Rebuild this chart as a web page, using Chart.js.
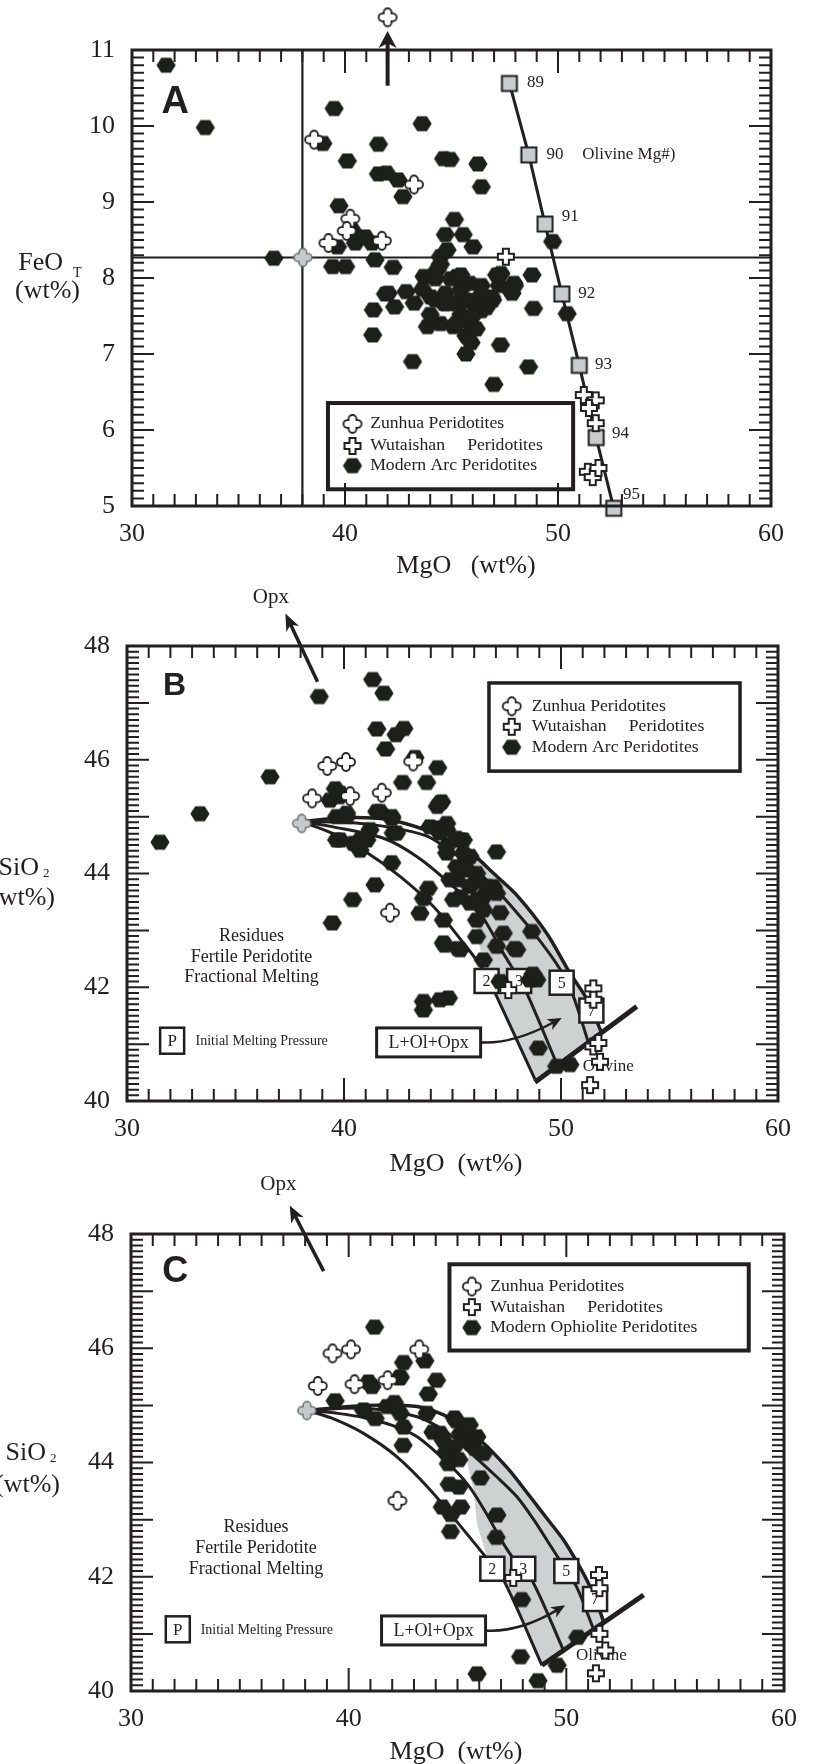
<!DOCTYPE html>
<html>
<head>
<meta charset="utf-8">
<script src="https://cdn.jsdelivr.net/npm/chart.js@4.4.1/dist/chart.umd.min.js"></script>
<style>
  html, body { margin: 0; padding: 0; background: #fff; }
  #page { position: relative; width: 816px; height: 1764px; overflow: hidden; }
  #page canvas { position: absolute; left: 0; }
</style>
</head>
<body>
<div id="page">
  <canvas id="chartA" width="816" height="590" style="top:0px"></canvas>
  <canvas id="chartB" width="816" height="600" style="top:580px"></canvas>
  <canvas id="chartC" width="816" height="594" style="top:1170px"></canvas>
</div>
<script>
// ---------- shared ticks ----------
const X_TICKS = [30, 40, 50, 60];
const A_Y_TICKS = [5, 6, 7, 8, 9, 10, 11];
const SI_Y_TICKS = [40, 42, 44, 46, 48];

// ---------- Panel A : FeO_T vs MgO ----------
const A_ARC = [
  [31.6,10.8],[33.44,9.98],[39.49,10.23],[38.96,9.77],[40.11,9.54],[43.62,10.03],[41.57,9.76],
  [41.57,9.37],[41.95,9.38],[42.49,9.29],[42.72,9.07],[44.63,9.57],[44.94,9.56],[46.24,9.5],
  [46.4,9.2],[39.72,8.95],[45.14,8.77],[44.71,8.57],[45.55,8.57],[46.01,8.41],[36.66,8.26],
  [39.42,8.15],[40.03,8.15],[41.41,8.24],[42.26,8.14],[40.49,8.46],[40.95,8.54],[41.26,8.46],
  [39.65,8.41],[40.34,8.63],[44.48,8.28],[44.79,8.37],[47.32,8.06],[47.93,7.93],[48.78,8.04],
  [49.75,8.48],[43.71,8.02],[44.33,8.11],[45.25,8.02],[45.86,7.93],[42.03,7.8],[42.87,7.82],
  [41.33,7.58],[43.25,7.67],[44.02,7.75],[44.63,7.67],[45.4,7.71],[46.32,7.75],[46.93,7.71],
  [48.85,7.6],[43.87,7.36],[44.48,7.4],[45.09,7.36],[45.86,7.4],[50.43,7.53],[48.62,6.83],
  [46.99,6.6],[47.3,7.12],[43.17,6.9],[41.3,7.25],[41.9,7.79],[42.33,7.62],[44.24,7.99],
  [44.96,7.99],[45.44,8.04],[44.24,7.71],[44.72,7.66],[45.2,7.66],[45.68,7.71],[46.4,7.9],
  [46.88,7.75],[47.24,7.9],[47.12,8.04],[47.96,7.9],[47.84,7.8],[45.44,7.52],[45.8,7.43],
  [46.4,7.57],[45.68,7.24],[46.16,7.33],[45.92,7.15],[45.68,7.0],[46.52,7.71],[46.64,7.61],
  [44.0,7.52],[43.64,7.85],[44.72,7.8],[45.44,7.85],[46.16,7.61],[45.2,7.4],[44.48,8.18],
  [45.8,7.7],[46.0,7.5]
];
const A_ZUNHUA = [[38.55,9.82],[43.24,9.23],[40.25,8.78],[40.08,8.62],[39.22,8.46],[41.73,8.49]];
const A_ZUNHUA_HIGH = [[42.0,11.43]];      // off-scale sample above the frame
const A_START = [[38.02,8.27]];
const A_WUTAI = [[47.55,8.28],[51.21,6.46],[51.77,6.39],[51.45,6.29],[51.77,6.09],[51.4,5.45],[51.63,5.38],[51.9,5.5]];
const A_OLIVINE = [[47.72,10.56],[48.63,9.62],[49.39,8.71],[50.18,7.79],[51.0,6.85],[51.79,5.9],[52.62,4.97]];
const A_MG = ['89','90','91','92','93','94','95'];
const A_MG_AT = [[48.55,10.57],[49.46,9.62],[50.18,8.81],[50.95,7.79],[51.74,6.86],[52.53,5.95],[53.05,5.15]];
const A_VLINE = [[38,5],[38,11]];
const A_HLINE = [[30,8.27],[60,8.27]];

// ---------- Panel B : SiO2 vs MgO, arc peridotites ----------
const B_ARC = [
  [38.86,47.11],[41.32,47.41],[41.84,47.17],[41.51,46.54],[42.4,46.44],[42.76,46.55],[41.92,46.19],
  [43.27,46.04],[44.32,45.86],[42.7,45.6],[43.81,45.6],[44.5,45.26],[44.3,45.18],[36.59,45.7],
  [33.36,45.05],[31.52,44.55],[39.6,45.49],[39.35,45.29],[39.78,45.35],[39.66,45.0],[40.12,45.0],
  [41.51,45.09],[42.2,45.0],[39.82,44.59],[40.43,44.53],[40.74,44.41],[41.05,44.59],[42.27,44.71],
  [42.2,44.19],[44.27,44.8],[44.73,44.77],[45.35,44.59],[44.73,44.36],[45.65,44.24],[47.03,44.38],
  [41.43,43.8],[40.4,43.54],[39.46,43.13],[43.89,43.74],[43.66,43.56],[43.5,43.3],[45.19,43.89],
  [46.11,43.89],[46.42,43.59],[45.05,43.54],[45.81,43.48],[46.88,43.77],[44.58,43.18],[46.11,43.18],
  [47.19,43.31],[44.58,42.78],[45.35,42.66],[46.11,42.89],[47.34,42.95],[47.96,42.66],[48.65,42.98],
  [47.03,42.72],[46.42,42.48],[48.88,42.13],[48.57,42.13],[47.19,42.1],[43.66,41.75],[43.66,41.6],
  [44.42,41.78],[44.81,41.81],[48.96,40.93],[49.8,40.61],[50.41,40.64],[44.73,44.47],[45.5,44.59],
  [45.81,44.3],[45.19,44.12],[46.11,44.0],[45.81,43.77],[46.57,43.77],[46.11,43.54],[45.35,43.59],
  [46.42,43.36],[47.03,43.65],[44.42,44.71],[43.96,44.82],[44.73,44.88],[45.19,44.62],[45.5,44.36],
  [45.65,44.06],[44.88,43.89],[39.82,45.41],[40.12,45.06],[39.66,44.59],[40.74,44.59],[41.66,45.09],
  [42.2,44.97],[42.42,44.71],[41.2,44.77],[44.42,45.24],[45.24,42.68],[44.64,42.74],[47.87,42.68],
  [48.71,42.23]
];
const B_ZUNHUA = [[39.23,45.89],[40.09,45.96],[43.19,45.97],[38.53,45.32],[40.28,45.36],[41.74,45.42],[42.12,43.31]];
const B_START = [[38.05,44.88]];
const B_WUTAI = [[47.57,41.95],[51.49,41.98],[51.49,41.78],[51.49,40.96],[51.72,41.02],[51.8,40.69],[51.34,40.28]];
const B_C2 = [[38.06,44.91],[39.5,44.7],[41.05,44.37],[42.58,43.95],[44.12,43.42],[45.5,42.78],[46.4,42.32],[46.96,41.9],[48.8,40.38]];
const B_C3 = [[38.06,44.91],[39.5,44.82],[41.82,44.62],[43.35,44.3],[44.8,43.85],[46.27,43.3],[47.34,42.6],[47.9,42.25],[48.42,41.9],[49.8,40.66]];
const B_C5 = [[38.06,44.91],[40.0,44.9],[42.0,44.82],[43.8,44.66],[44.9,44.4],[45.81,44.15],[46.8,43.8],[47.65,43.45],[48.88,42.89],[49.95,42.32],[50.57,41.84],[51.26,41.03]];
const B_C7 = [[38.06,44.91],[40.0,44.98],[42.0,44.95],[43.81,44.76],[45.0,44.55],[45.96,44.33],[46.9,44.0],[47.96,43.62],[49.34,42.95],[50.41,42.25],[51.18,41.8],[51.87,41.2]];
const B_BAND = [[45.9,44.15],[45.96,44.33],[46.9,44.0],[47.96,43.62],[49.34,42.95],[50.41,42.25],[51.18,41.8],[51.87,41.2],[48.8,40.33],[46.96,41.9],[46.5,42.3],[46.2,42.8],[46.05,43.4],[45.95,43.9]];
const B_OLIVINE = [[48.8,40.33],[53.49,41.66]];
const B_P = ['2','3','5','7'];
const B_P_AT = [[46.57,42.11],[48.07,42.11],[50.03,42.08],[51.4,41.59]];

// ---------- Panel C : SiO2 vs MgO, ophiolite peridotites ----------
const C_ARC = [
  [41.19,46.37],[42.52,45.75],[43.5,45.78],[42.34,45.48],[44.04,45.44],[41.07,45.33],[40.91,45.41],
  [43.66,45.2],[39.38,45.08],[43.6,44.86],[41.76,44.98],[40.68,44.92],[41.22,44.77],[42.37,44.86],
  [42.52,44.62],[42.5,44.3],[44.86,44.78],[44.21,44.51],[45.13,44.51],[45.59,44.33],[44.67,44.27],
  [45.89,44.45],[46.2,44.16],[43.87,44.53],[44.94,44.73],[44.34,44.39],[44.82,44.25],[45.54,44.46],
  [45.78,44.25],[45.06,44.05],[44.58,43.98],[44.46,44.18],[45.3,44.39],[45.54,44.66],[44.62,43.62],
  [45.06,43.57],[46.05,43.73],[44.3,43.22],[45.15,43.22],[44.7,43.09],[44.68,42.79],[46.81,43.08],
  [46.78,42.69],[47.95,41.6],[50.52,40.94],[47.9,40.6],[49.58,40.45],[45.9,40.3],[48.7,40.18],
  [42.37,45.5],[42.1,45.05]
];
const C_ZUNHUA = [[39.26,45.91],[40.11,45.98],[43.24,45.98],[38.58,45.34],[40.27,45.37],[41.79,45.44],[42.24,43.33]];
const C_START = [[38.08,44.91]];
const C_WUTAI = [[47.56,41.98],[51.5,42.03],[51.52,41.8],[51.52,41.0],[51.79,40.71],[51.36,40.31]];
const C_C2 = [[38.08,44.91],[39.2,44.78],[40.68,44.51],[42.22,44.1],[43.75,43.52],[45.28,42.82],[46.35,42.32],[47.12,41.94],[48.88,40.45]];
const C_C3 = [[38.08,44.91],[39.5,44.86],[40.76,44.78],[42.0,44.65],[43.15,44.45],[44.58,43.98],[45.5,43.6],[46.26,43.15],[47.0,42.65],[47.6,42.3],[48.42,41.94],[49.87,40.71]];
const C_C5 = [[38.08,44.91],[40.76,44.95],[43.15,44.8],[44.6,44.5],[45.8,44.1],[46.8,43.75],[47.73,43.4],[48.5,43.0],[49.11,42.64],[49.98,42.12],[50.5,41.8],[51.25,41.08]];
const C_C7 = [[38.08,44.91],[40.76,45.0],[43.15,44.98],[44.8,44.75],[46.05,44.39],[47.3,43.9],[48.34,43.4],[49.11,43.02],[49.88,42.64],[50.5,42.25],[51.1,41.82],[51.45,41.5],[51.72,41.2]];
const C_BAND = [[45.43,44.06],[46.05,44.39],[47.3,43.9],[48.34,43.4],[49.11,43.02],[49.88,42.64],[50.5,42.25],[51.1,41.82],[51.45,41.5],[51.72,41.2],[48.88,40.45],[47.12,41.94],[46.35,42.35],[45.89,42.93],[45.74,43.52],[45.5,43.9]];
const C_OLIVINE = [[48.88,40.45],[53.55,41.68]];
const C_P = ['2','3','5','7'];
const C_P_AT = [[46.6,42.14],[48.02,42.14],[50.0,42.1],[51.32,41.61]];

const LEGEND_AB = ['Zunhua Peridotites', 'Wutaishan     Peridotites', 'Modern Arc Peridotites'];
const LEGEND_C = ['Zunhua Peridotites', 'Wutaishan     Peridotites', 'Modern Ophiolite Peridotites'];

// ---------- drawing helpers ----------
const INK = '#211f1f';
const SERIF = '"Liberation Serif", "Times New Roman", serif';
const SANS = '"Liberation Sans", Arial, sans-serif';

function marker(size, paint) {
  const c = document.createElement('canvas');
  c.width = c.height = size;
  const g = c.getContext('2d');
  g.translate(size / 2, size / 2);
  paint(g);
  return c;
}
function roundCross(g, s, a) {
  g.beginPath();
  g.moveTo(-a, -a);
  g.lineTo(-a, -s + a); g.arc(0, -s + a, a, Math.PI, 0); g.lineTo(a, -a);
  g.lineTo(s - a, -a); g.arc(s - a, 0, a, -Math.PI / 2, Math.PI / 2); g.lineTo(a, a);
  g.lineTo(a, s - a); g.arc(0, s - a, a, 0, Math.PI); g.lineTo(-a, a);
  g.lineTo(-s + a, a); g.arc(-s + a, 0, a, Math.PI / 2, Math.PI * 1.5);
  g.closePath();
}
const HEX = marker(22, g => {
  g.beginPath();
  for (let i = 0; i < 6; i++) {
    const t = i * Math.PI / 3;
    g.lineTo(9.6 * Math.cos(t), 8.6 * Math.sin(t));
  }
  g.closePath();
  g.fillStyle = '#1d1f1b';
  g.fill();
});
const ZUNHUA = marker(22, g => {
  roundCross(g, 9, 3.9);
  g.fillStyle = '#fff'; g.fill();
  g.lineWidth = 1.8; g.strokeStyle = INK; g.stroke();
});
const START = marker(22, g => {
  roundCross(g, 9, 3.9);
  g.fillStyle = '#c6c9ca'; g.fill();
  g.lineWidth = 1.4; g.strokeStyle = '#666'; g.stroke();
});
const WUTAI = marker(22, g => {
  const s = 8, a = 3;
  g.beginPath();
  g.moveTo(-a, -s); g.lineTo(a, -s); g.lineTo(a, -a); g.lineTo(s, -a); g.lineTo(s, a); g.lineTo(a, a);
  g.lineTo(a, s); g.lineTo(-a, s); g.lineTo(-a, a); g.lineTo(-s, a); g.lineTo(-s, -a); g.lineTo(-a, -a);
  g.closePath();
  g.fillStyle = '#fff'; g.fill();
  g.lineWidth = 2; g.strokeStyle = INK; g.stroke();
});
const SQUARE = marker(20, g => {
  g.fillStyle = '#c9cccd'; g.fillRect(-7.5, -7.5, 15, 15);
  g.lineWidth = 2; g.strokeStyle = INK; g.strokeRect(-7.5, -7.5, 15, 15);
});

function text(ctx, s, x, y, size, opt = {}) {
  ctx.save();
  ctx.font = (opt.weight || '') + ' ' + size + 'px ' + (opt.family || SERIF);
  ctx.fillStyle = INK;
  ctx.textAlign = opt.align || 'left';
  ctx.textBaseline = opt.base || 'middle';
  ctx.translate(x, y);
  ctx.scale(opt.sx || 1, 1);
  ctx.fillText(s, 0, 0);
  ctx.restore();
}
function box(ctx, cx, cy, w, h, lw) {
  ctx.save();
  ctx.fillStyle = '#fff';
  ctx.fillRect(cx - w / 2, cy - h / 2, w, h);
  ctx.lineWidth = lw; ctx.strokeStyle = INK;
  ctx.strokeRect(cx - w / 2, cy - h / 2, w, h);
  ctx.restore();
}
function head(ctx, x, y, ang, len, wid) {
  ctx.save();
  ctx.translate(x, y); ctx.rotate(ang);
  ctx.beginPath();
  ctx.moveTo(0, 0); ctx.lineTo(-len, -wid / 2); ctx.lineTo(-len * 0.72, 0); ctx.lineTo(-len, wid / 2);
  ctx.closePath(); ctx.fillStyle = INK; ctx.fill();
  ctx.restore();
}
function arrow(ctx, p1, p2, lw, len, wid) {
  const ang = Math.atan2(p2[1] - p1[1], p2[0] - p1[0]);
  ctx.save();
  ctx.strokeStyle = INK; ctx.lineWidth = lw;
  ctx.beginPath(); ctx.moveTo(p1[0], p1[1]);
  ctx.lineTo(p2[0] - Math.cos(ang) * len * 0.7, p2[1] - Math.sin(ang) * len * 0.7);
  ctx.stroke(); ctx.restore();
  head(ctx, p2[0], p2[1], ang, len, wid);
}
const P = (chart, x, y) => [chart.scales.x.getPixelForValue(x), chart.scales.y.getPixelForValue(y)];

function drawFrame(chart, cfg) {
  const ctx = chart.ctx;
  const { left, right, top, bottom } = chart.chartArea;
  const xs = chart.scales.x, ys = chart.scales.y;
  ctx.save();
  ctx.strokeStyle = INK;
  ctx.lineWidth = 2;
  ctx.beginPath();
  for (let v = xs.min; v <= xs.max; v += 1) {
    const p = xs.getPixelForValue(v);
    const len = v % 10 === 0 ? 23 : 12;
    ctx.moveTo(p, top); ctx.lineTo(p, top + len);
    ctx.moveTo(p, bottom); ctx.lineTo(p, bottom - len);
  }
  const n = Math.round((ys.max - ys.min) * 10);
  for (let i = 0; i <= n; i++) {
    const p = ys.getPixelForValue(ys.min + i / 10);
    const len = i % 10 === 0 ? 22 : 12;
    ctx.moveTo(left, p); ctx.lineTo(left + len, p);
    ctx.moveTo(right, p); ctx.lineTo(right - len, p);
  }
  ctx.stroke();
  ctx.lineWidth = 3;
  ctx.strokeRect(left, top, right - left, bottom - top);
  ctx.restore();

  X_TICKS.forEach(v => text(ctx, String(v), xs.getPixelForValue(v), bottom + 28, 26, { align: 'center' }));
  cfg.yTicks.forEach(v => text(ctx, String(v), left - 17, ys.getPixelForValue(v), 26, { align: 'right' }));
  text(ctx, cfg.xTitle, cfg.xTitleAt[0], cfg.xTitleAt[1] - cfg.top, 26, { align: 'center' });
  cfg.yTitle(ctx, cfg.top);
}

function drawLegend(chart, lg) {
  const ctx = chart.ctx;
  const [x1, y1] = P(chart, lg.box[0], lg.box[1]);
  const [x2, y2] = P(chart, lg.box[2], lg.box[3]);
  ctx.save();
  ctx.fillStyle = '#fff'; ctx.fillRect(x1, y1, x2 - x1, y2 - y1);
  ctx.lineWidth = lg.lw; ctx.strokeStyle = INK; ctx.strokeRect(x1, y1, x2 - x1, y2 - y1);
  ctx.restore();
  const icons = [ZUNHUA, WUTAI, HEX];
  lg.labels.forEach((s, i) => {
    const [mx, my] = P(chart, lg.markerX, lg.rowY[i]);
    ctx.drawImage(icons[i], mx - icons[i].width / 2, my - icons[i].height / 2);
    text(ctx, s, P(chart, lg.textX, 0)[0], my, 17, { sx: 1.04 });
  });
}

// annotations common to the two SiO2 panels
function meltAnnot(chart, a) {
  const ctx = chart.ctx;
  a.pLabels.forEach((s, i) => {
    const [x, y] = P(chart, a.pAt[i][0], a.pAt[i][1]);
    box(ctx, x, y, 24, 24, 2.5);
    text(ctx, s, x, y + 1, 16, { align: 'center' });
  });
  // L+Ol+Opx label with curved arrow into the shaded field
  const [bx, by] = P(chart, a.lolAt[0], a.lolAt[1]);
  box(ctx, bx, by, 104, 29, 3);
  text(ctx, 'L+Ol+Opx', bx, by + 1, 18, { align: 'center' });
  const s0 = [bx + 52, by];
  const c1 = P(chart, a.lolCtrl[0], a.lolCtrl[1]);
  const e1 = P(chart, a.lolTip[0], a.lolTip[1]);
  ctx.save();
  ctx.strokeStyle = INK; ctx.lineWidth = 2.5;
  ctx.beginPath(); ctx.moveTo(s0[0], s0[1]);
  const ang = Math.atan2(e1[1] - c1[1], e1[0] - c1[0]);
  ctx.quadraticCurveTo(c1[0], c1[1], e1[0] - Math.cos(ang) * 9, e1[1] - Math.sin(ang) * 9);
  ctx.stroke(); ctx.restore();
  head(ctx, e1[0], e1[1], ang, 14, 12);
  // initial melting pressure key
  const [kx, ky] = P(chart, a.keyAt[0], a.keyAt[1]);
  box(ctx, kx, ky, 24, 26, 2.5);
  text(ctx, 'P', kx, ky + 1, 17, { align: 'center' });
  text(ctx, 'Initial Melting Pressure', P(chart, a.keyText, 0)[0], ky + 1, 14);
  // residue caption
  ['Residues', 'Fertile Peridotite', 'Fractional Melting'].forEach((s, i) => {
    const [x, y] = P(chart, a.resAt[0], a.resAt[1][i]);
    text(ctx, s, x, y, 18, { align: 'center' });
  });
  // Opx direction
  const [ox, oy] = P(chart, a.opxAt[0], a.opxAt[1]);
  text(ctx, 'Opx', ox, oy, 21, { align: 'center' });
  arrow(ctx, P(chart, a.opxArrow[0][0], a.opxArrow[0][1]), P(chart, a.opxArrow[1][0], a.opxArrow[1][1]), 3.5, 17, 14);
  const [lx, ly] = P(chart, a.olAt[0], a.olAt[1]);
  text(ctx, 'Olivine', lx, ly, 17);
  const [qx, qy] = P(chart, a.letterAt[0], a.letterAt[1]);
  text(ctx, a.letter, qx, qy, a.letterSize, { family: SANS, weight: 'bold', base: 'alphabetic' });
}

function figurePlugin(cfg) {
  return {
    id: 'figure' + cfg.letter,
    beforeDatasetDraw(chart, args) {
      if (chart.data.datasets[args.index].annotBefore) cfg.annot(chart);
    },
    afterDatasetsDraw(chart) {
      drawLegend(chart, cfg.legend);
    },
    afterDraw(chart) {
      drawFrame(chart, cfg);
    }
  };
}

const pts = arr => arr.map(([x, y]) => ({ x, y }));
function pointSet(arr, style, order, extra) {
  return Object.assign({ data: pts(arr), pointStyle: style, pointRadius: 9, borderWidth: 0, order, clip: false }, extra || {});
}
function lineSet(arr, width, order, extra) {
  return Object.assign({ data: pts(arr), showLine: true, borderColor: INK, borderWidth: width, pointRadius: 0, order, tension: 0, fill: false }, extra || {});
}

function makeChart(cfg, datasets) {
  return new Chart(document.getElementById(cfg.id), {
    type: 'scatter',
    data: { datasets },
    options: {
      responsive: false, animation: false, devicePixelRatio: 1, events: [],
      layout: { padding: cfg.pad },
      plugins: { legend: { display: false }, tooltip: { enabled: false } },
      scales: {
        x: { type: 'linear', min: 30, max: 60, display: false },
        y: { type: 'linear', min: cfg.ymin, max: cfg.ymax, display: false }
      }
    },
    plugins: [figurePlugin(cfg)]
  });
}

// ---------- Panel A ----------
const PANEL_A = {
  id: 'chartA', letter: 'A', top: 0, ymin: 5, ymax: 11, yTicks: A_Y_TICKS,
  pad: { left: 132, right: 32, top: 50, bottom: 84 },
  xTitle: 'MgO   (wt%)', xTitleAt: [466, 566],
  yTitle(ctx, top) {
    text(ctx, 'FeO', 63, 270 - top, 26, { align: 'right', base: 'alphabetic' });
    text(ctx, 'T', 73, 277 - top, 14, { base: 'alphabetic' });
    text(ctx, '(wt%)', 80, 298 - top, 26, { align: 'right', base: 'alphabetic' });
  },
  legend: { box: [39.2, 6.355, 50.71, 5.22], lw: 4, markerX: 40.35, textX: 41.18, rowY: [6.08, 5.79, 5.53], labels: LEGEND_AB },
  annot(chart) {
    const ctx = chart.ctx;
    A_MG.forEach((s, i) => {
      const [x, y] = P(chart, A_MG_AT[i][0], A_MG_AT[i][1]);
      text(ctx, s, x, y, 17);
    });
    const [tx, ty] = P(chart, 51.14, 9.62);
    text(ctx, 'Olivine Mg#)', tx, ty, 17);
    arrow(ctx, P(chart, 42, 10.53), P(chart, 42, 11.25), 4, 17, 18);
    const [lx, ly] = P(chart, 31.38, 10.17);
    text(ctx, 'A', lx, ly, 38, { family: SANS, weight: 'bold', base: 'alphabetic' });
  }
};
makeChart(PANEL_A, [
  pointSet(A_START, START, 0),
  pointSet(A_ZUNHUA, ZUNHUA, 1),
  pointSet(A_ZUNHUA_HIGH, ZUNHUA, 1, { pointRadius: 45 }),
  pointSet(A_WUTAI, WUTAI, 2),
  pointSet(A_ARC, HEX, 3, { annotBefore: true }),
  lineSet(A_OLIVINE, 3, 20, { pointStyle: SQUARE, pointRadius: 8, clip: false }),
  lineSet(A_VLINE, 2.2, 30),
  lineSet(A_HLINE, 2.2, 30)
]);

// ---------- Panel B ----------
const PANEL_B = {
  id: 'chartB', letter: 'B', top: 580, ymin: 40, ymax: 48, yTicks: SI_Y_TICKS,
  pad: { left: 127, right: 38, top: 66, bottom: 79 },
  xTitle: 'MgO  (wt%)', xTitleAt: [456, 1164],
  yTitle(ctx, top) {
    text(ctx, 'SiO', 39, 875 - top, 26, { align: 'right', base: 'alphabetic' });
    text(ctx, '2', 43, 877 - top, 13, { base: 'alphabetic' });
    text(ctx, '(wt%)', 55, 905 - top, 26, { align: 'right', base: 'alphabetic' });
  },
  legend: { box: [46.68, 47.35, 58.25, 45.8], lw: 3.5, markerX: 47.73, textX: 48.65, rowY: [46.94, 46.58, 46.22], labels: LEGEND_AB },
  annot(chart) {
    meltAnnot(chart, {
      pLabels: B_P, pAt: B_P_AT,
      lolAt: [43.9, 41.03], lolCtrl: [47.8, 41.0], lolTip: [50.03, 41.46],
      keyAt: [32.08, 41.06], keyText: 33.16,
      resAt: [35.74, [42.9, 42.53, 42.17]],
      opxAt: [36.63, 48.86], opxArrow: [[38.78, 47.37], [37.3, 48.57]],
      olAt: [51.0, 40.6], letter: 'B', letterAt: [31.66, 47.14], letterSize: 32
    });
  }
};
makeChart(PANEL_B, [
  pointSet(B_START, START, 0),
  pointSet(B_ZUNHUA, ZUNHUA, 1),
  pointSet(B_WUTAI, WUTAI, 2),
  pointSet(B_ARC, HEX, 3, { annotBefore: true }),
  lineSet(B_OLIVINE, 5, 20),
  lineSet(B_C2, 3, 25, { tension: 0.3 }),
  lineSet(B_C3, 3, 25, { tension: 0.3 }),
  lineSet(B_C5, 3, 25, { tension: 0.3 }),
  lineSet(B_C7, 3.5, 25, { tension: 0.3 }),
  lineSet(B_BAND, 0, 40, { fill: 'shape', backgroundColor: '#ced1d2' })
]);

// ---------- Panel C ----------
const PANEL_C = {
  id: 'chartC', letter: 'C', top: 1170, ymin: 40, ymax: 48, yTicks: SI_Y_TICKS,
  pad: { left: 131, right: 32, top: 64, bottom: 73 },
  xTitle: 'MgO  (wt%)', xTitleAt: [456, 1752],
  yTitle(ctx, top) {
    text(ctx, 'SiO', 46, 1460 - top, 26, { align: 'right', base: 'alphabetic' });
    text(ctx, '2', 50, 1462 - top, 13, { base: 'alphabetic' });
    text(ctx, '(wt%)', 60, 1492 - top, 26, { align: 'right', base: 'alphabetic' });
  },
  legend: { box: [44.63, 47.47, 58.38, 45.96], lw: 4, markerX: 45.66, textX: 46.5, rowY: [47.08, 46.72, 46.36], labels: LEGEND_C },
  annot(chart) {
    meltAnnot(chart, {
      pLabels: C_P, pAt: C_P_AT,
      lolAt: [43.9, 41.06], lolCtrl: [47.8, 41.02], lolTip: [49.95, 41.5],
      keyAt: [32.15, 41.08], keyText: 33.2,
      resAt: [35.74, [42.87, 42.5, 42.13]],
      opxAt: [36.77, 48.86], opxArrow: [[38.85, 47.35], [37.29, 48.5]],
      olAt: [50.44, 40.62], letter: 'C', letterAt: [31.43, 47.16], letterSize: 36
    });
  }
};
makeChart(PANEL_C, [
  pointSet(C_START, START, 0),
  pointSet(C_ZUNHUA, ZUNHUA, 1),
  pointSet(C_WUTAI, WUTAI, 2),
  pointSet(C_ARC, HEX, 3, { annotBefore: true }),
  lineSet(C_OLIVINE, 5, 20),
  lineSet(C_C2, 3, 25, { tension: 0.3 }),
  lineSet(C_C3, 3, 25, { tension: 0.3 }),
  lineSet(C_C5, 3, 25, { tension: 0.3 }),
  lineSet(C_C7, 3.5, 25, { tension: 0.3 }),
  lineSet(C_BAND, 0, 40, { fill: 'shape', backgroundColor: '#ced1d2' })
]);
</script>
</body>
</html>
